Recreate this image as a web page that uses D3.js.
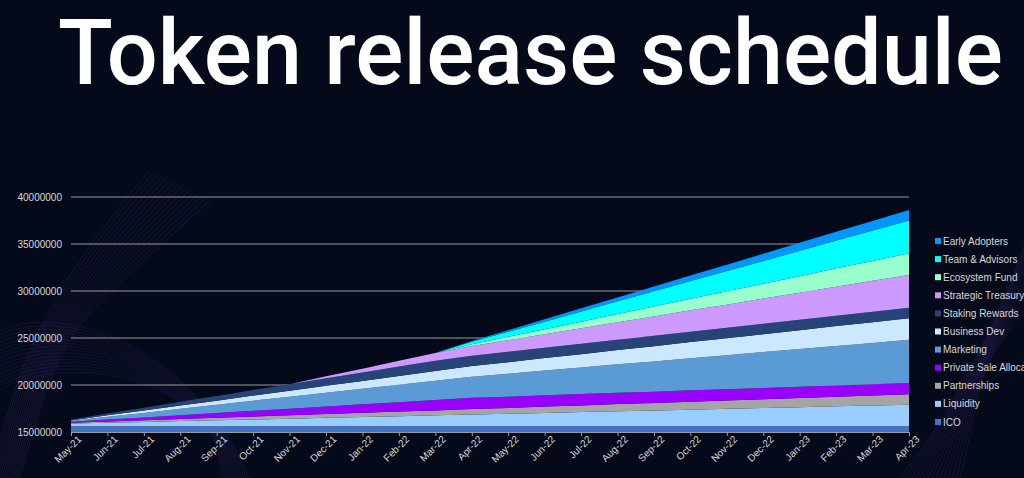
<!DOCTYPE html>
<html>
<head>
<meta charset="utf-8">
<script src="https://cdn.jsdelivr.net/npm/d3@7"></script>
<style>
  html, body { margin: 0; padding: 0; background: #050a1a; overflow: hidden; }
  svg { display: block; }
</style>
</head>
<body>
<script>
// chart data (token amounts in millions)
var months = ["May-21","Jun-21","Jul-21","Aug-21","Sep-21","Oct-21","Nov-21","Dec-21",
  "Jan-22","Feb-22","Mar-22","Apr-22","May-22","Jun-22","Jul-22","Aug-22","Sep-22","Oct-22",
  "Nov-22","Dec-22","Jan-23","Feb-23","Mar-23","Apr-23"];

var ico = [15.6,15.6,15.6,15.6,15.6,15.6,15.6,15.6,15.6,15.6,15.6,15.6,
  15.6,15.6,15.6,15.6,15.6,15.6,15.6,15.6,15.6,15.6,15.6,15.6];
var liquidity = [0.30,0.39,0.47,0.56,0.65,0.74,0.82,0.91,1.00,1.08,1.17,1.26,
  1.34,1.43,1.52,1.61,1.69,1.78,1.87,1.95,2.04,2.13,2.21,2.30];
var partnerships = [0.08,0.13,0.17,0.22,0.26,0.31,0.35,0.40,0.44,0.49,0.53,0.58,
  0.62,0.67,0.71,0.76,0.80,0.85,0.89,0.94,0.98,1.03,1.07,1.12];
var privateSale = [0.1,0.2,0.3,0.4,0.5,0.6,0.7,0.8,0.9,1.0,1.1,1.2,
  1.2,1.2,1.2,1.2,1.2,1.2,1.2,1.2,1.2,1.2,1.2,1.2];
var marketing = [0.10,0.30,0.49,0.69,0.88,1.08,1.27,1.47,1.66,1.86,2.05,2.25,
  2.44,2.64,2.83,3.03,3.22,3.42,3.61,3.81,4.00,4.20,4.39,4.59];
var businessDev = [0.05,0.15,0.25,0.34,0.44,0.54,0.64,0.74,0.83,0.93,1.03,1.13,
  1.23,1.32,1.42,1.52,1.62,1.72,1.81,1.91,2.01,2.11,2.21,2.30];
var staking = [0.1,0.2,0.3,0.4,0.5,0.6,0.7,0.8,0.9,1.0,1.1,1.1,
  1.1,1.1,1.1,1.1,1.1,1.1,1.1,1.1,1.1,1.1,1.1,1.1];
var strategic = [0,0,0,0,0,0,0,0.21,0.41,0.62,0.82,1.03,
  1.24,1.44,1.65,1.85,2.06,2.27,2.47,2.68,2.88,3.09,3.30,3.50];
var ecosystem = [0,0,0,0,0,0,0,0,0,0,0,0.18,
  0.35,0.53,0.71,0.88,1.06,1.24,1.42,1.59,1.77,1.95,2.12,2.30];
var team = [0,0,0,0,0,0,0,0,0,0,0,0.27,
  0.54,0.81,1.08,1.35,1.62,1.88,2.15,2.42,2.69,2.96,3.23,3.50];
var earlyAdopters = [0,0,0,0,0,0,0,0,0,0,0,0.085,
  0.17,0.25,0.34,0.42,0.51,0.59,0.68,0.76,0.85,0.93,1.02,1.10];

var yTicks = [15,20,25,30,35,40];

// bottom to top
var series = [
  {key: "ICO", values: ico, color: "#4472c4"},
  {key: "Liquidity", values: liquidity, color: "#99ccff"},
  {key: "Partnerships", values: partnerships, color: "#a5a5a5"},
  {key: "Private Sale Allocation", values: privateSale, color: "#9900ff"},
  {key: "Marketing", values: marketing, color: "#5b9bd5"},
  {key: "Business Dev", values: businessDev, color: "#cce8ff"},
  {key: "Staking Rewards", values: staking, color: "#264478"},
  {key: "Strategic Treasury", values: strategic, color: "#cc99ff"},
  {key: "Ecosystem Fund", values: ecosystem, color: "#99ffcc"},
  {key: "Team & Advisors", values: team, color: "#00ffff"},
  {key: "Early Adopters", values: earlyAdopters, color: "#0096ff"}
];

var width = 1024;
var height = 478;
var plotLeft = 71, plotRight = 909, plotTop = 197, plotBottom = 432;

var svg = d3.select("body")
  .append("svg")
    .attr("width", width)
    .attr("height", height)
    .style("background-color", "#050a1a");

// faint purple wave lines in the background
var deco = svg.append("g").attr("fill", "none");
var waves = d3.range(16);
deco.selectAll(".wl")
  .data(waves)
  .enter()
  .append("path")
    .attr("stroke", "#6a4fc0")
    .attr("stroke-opacity", 0.2)
    .attr("stroke-width", 0.8)
    .attr("d", function(d) {
      return "M" + (-10 + d * 2) + ",478 C" + (20 + d * 3) + "," + (360 - d * 3) + " " +
        (40 + d * 2) + "," + (300 + d * 2) + " " + (150 + d * 4) + "," + (170 + d * 2);
    });
deco.selectAll(".wl2")
  .data(waves)
  .enter()
  .append("path")
    .attr("stroke", "#6a4fc0")
    .attr("stroke-opacity", 0.16)
    .attr("stroke-width", 0.8)
    .attr("d", function(d) {
      return "M0," + (330 + d * 4) + " C" + (80) + "," + (300 + d * 3) + " " +
        (200 + d * 2) + "," + (360 + d * 2) + " " + (250 - d * 2) + ",478";
    });
deco.selectAll(".wr")
  .data(waves)
  .enter()
  .append("path")
    .attr("stroke", "#6a4fc0")
    .attr("stroke-opacity", 0.2)
    .attr("stroke-width", 0.8)
    .attr("d", function(d) {
      return "M" + (900 + d * 4) + ",478 C" + (960 + d * 2) + "," + (400 - d * 3) + " " +
        (1000 - d * 2) + "," + (320 + d * 4) + " " + (1040) + "," + (200 + d * 6);
    });

// title
var title = svg.append("text")
  .attr("x", 58)
  .attr("y", 84)
  .attr("fill", "#ffffff")
  .style("font-family", "Roboto, 'Noto Sans', sans-serif")
  .style("font-weight", "500")
  .style("font-size", "91px")
  .text("Token release schedule");
var tw = title.node().getComputedTextLength();
title.style("font-size", (91 * 945 / tw) + "px");

var x = d3.scalePoint()
  .domain(months)
  .range([plotLeft, plotRight]);

var y = d3.scaleLinear()
  .domain([15, 40])
  .range([plotBottom, plotTop]);

// gridlines
svg.append("g")
  .selectAll("line")
  .data(yTicks.slice(1))
  .enter()
  .append("line")
    .attr("x1", plotLeft)
    .attr("x2", plotRight)
    .attr("y1", function(d) { return y(d); })
    .attr("y2", function(d) { return y(d); })
    .attr("stroke", "#9a9a9a")
    .attr("stroke-width", 1);

// stacked areas
var rows = months.map(function(m, i) {
  var row = {month: m};
  series.forEach(function(s) { row[s.key] = s.values[i]; });
  return row;
});

var stacked = d3.stack()
  .keys(series.map(function(s) { return s.key; }))(rows);

svg.append("clipPath")
  .attr("id", "plot")
  .append("rect")
    .attr("x", plotLeft)
    .attr("y", 150)
    .attr("width", plotRight - plotLeft)
    .attr("height", plotBottom - 150);

var area = d3.area()
  .x(function(d) { return x(d.data.month); })
  .y0(function(d) { return y(d[0]); })
  .y1(function(d) { return y(d[1]); });

svg.append("g")
  .attr("clip-path", "url(#plot)")
  .selectAll("path")
  .data(stacked)
  .enter()
  .append("path")
    .attr("d", area)
    .attr("fill", function(d, i) { return series[i].color; });

// y axis labels
svg.append("g")
  .selectAll("text")
  .data(yTicks)
  .enter()
  .append("text")
    .attr("x", 62)
    .attr("y", function(d) { return y(d); })
    .attr("dy", "0.35em")
    .attr("text-anchor", "end")
    .attr("fill", "#d9d9d9")
    .style("font-family", "'Liberation Sans', Arial, sans-serif")
    .style("font-size", "10px")
    .text(function(d) { return d3.format("d")(d * 1000000); });

// x axis
var xAxis = svg.append("g")
  .attr("transform", "translate(0," + plotBottom + ")")
  .call(d3.axisBottom(x).tickSize(4).tickSizeOuter(0));

xAxis.select(".domain").attr("stroke", "#9a9a9a");
xAxis.selectAll(".tick line").attr("stroke", "#9a9a9a");
xAxis.selectAll(".tick text")
  .attr("fill", "#d9d9d9")
  .style("font-family", "'Liberation Sans', Arial, sans-serif")
  .style("font-size", "10px")
  .attr("text-anchor", "end")
  .attr("dx", "2px")
  .attr("dy", "6px")
  .attr("transform", "rotate(-45)");

// legend
var legend = svg.append("g")
  .selectAll("g")
  .data(series.slice().reverse())
  .enter()
  .append("g")
    .attr("transform", function(d, i) { return "translate(935," + (241 + i * 18.1) + ")"; });

legend.append("rect")
  .attr("x", 0)
  .attr("y", -3)
  .attr("width", 6)
  .attr("height", 6)
  .attr("fill", function(d) { return d.color; });

legend.append("text")
  .attr("x", 8)
  .attr("dy", "0.35em")
  .attr("fill", "#d9d9d9")
  .style("font-family", "'Liberation Sans', Arial, sans-serif")
  .style("font-size", "10px")
  .text(function(d) { return d.key; });
</script>
</body>
</html>
